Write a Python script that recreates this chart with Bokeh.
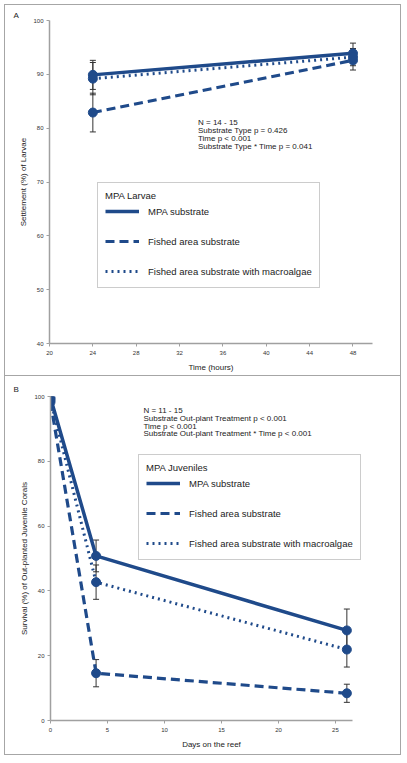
from bokeh.plotting import figure
from bokeh.models import (Whisker, TeeHead, ColumnDataSource, Legend, LegendItem,
                          Label, FixedTicker, Range1d)
from bokeh.embed import file_html
from bokeh.resources import INLINE

# ---------------- data ----------------
hours = [24, 48]
larvae_mpa = [89.9, 93.9]
larvae_mpa_se = [2.7, 1.9]
larvae_fished = [82.9, 92.6]
larvae_fished_se = [3.6, 1.8]
larvae_algae = [89.2, 93.2]
larvae_algae_se = [3.0, 1.6]

days = [0, 4, 26]
juv_mpa = [99.6, 50.8, 27.8]
juv_mpa_se = [0.4, 4.9, 6.6]
juv_fished = [98.3, 14.6, 8.4]
juv_fished_se = [0.8, 4.2, 2.8]
juv_algae = [99.0, 42.7, 21.9]
juv_algae_se = [0.6, 5.3, 5.4]

hour_ticks = [20, 24, 28, 32, 36, 40, 44, 48]
settle_ticks = [40, 50, 60, 70, 80, 90, 100]
day_ticks = [0, 5, 10, 15, 20, 25]
surv_ticks = [0, 20, 40, 60, 80, 100]

series_names = ["MPA substrate", "Fished area substrate",
                "Fished area substrate with macroalgae"]

stats_a = ["N = 14 - 15", "Substrate Type p = 0.426", "Time p < 0.001",
           "Substrate Type * Time p = 0.041"]
stats_b = ["N = 11 - 15", "Substrate Out-plant Treatment p < 0.001",
           "Time p < 0.001", "Substrate Out-plant Treatment * Time p < 0.001"]

BLUE = "#1f4a8a"
FONT = "Liberation Sans"
AXIS_GRAY = "#a0a0a0"
styles_ = [dict(line_dash="solid", line_width=3.5),
           dict(line_dash="9 5", line_width=3.2),
           dict(line_dash="2 4", line_width=3.0)]


def style_axes(p, xticks, yticks, xlabel, ylabel):
    p.xaxis.ticker = FixedTicker(ticks=xticks)
    p.yaxis.ticker = FixedTicker(ticks=yticks)
    p.xaxis.axis_label = xlabel
    p.yaxis.axis_label = ylabel
    for ax in (p.xaxis, p.yaxis):
        ax.axis_line_color = AXIS_GRAY
        ax.axis_line_width = 1.5
        ax.major_tick_line_color = AXIS_GRAY
        ax.major_tick_out = 3
        ax.major_tick_in = 0
        ax.minor_tick_line_color = None
        ax.major_label_text_font = FONT
        ax.major_label_text_font_size = "6px"
        ax.major_label_text_color = "#333333"
        ax.axis_label_text_font = FONT
        ax.axis_label_text_font_size = "8px"
        ax.axis_label_text_font_style = "normal"
        ax.axis_label_text_color = "#222222"
    p.xaxis.major_label_standoff = 4
    p.yaxis.major_label_standoff = 3
    p.xaxis.axis_label_standoff = 5
    p.yaxis.axis_label_standoff = 2
    p.xgrid.visible = False
    p.ygrid.visible = False
    p.outline_line_color = None


def panel(x, ys, ses, xr, yr, w, h, borders, css, xticks, yticks, xlabel, ylabel,
          legend_title, legend_loc, letter, letter_offset, letter_standoff,
          stats, stats_x, stats_y0, stats_dy):
    p = figure(width=w, height=h, output_backend="svg", toolbar_location=None,
               x_range=Range1d(*xr), y_range=Range1d(*yr),
               min_border_left=borders[0], min_border_right=borders[1],
               min_border_top=borders[2], min_border_bottom=borders[3],
               styles=css, title=letter)
    p.title.align = "left"
    p.title.offset = letter_offset
    p.title.standoff = letter_standoff
    p.title.text_font = FONT
    p.title.text_font_size = "8px"
    p.title.text_font_style = "normal"
    p.title.text_color = "#222222"
    style_axes(p, xticks, yticks, xlabel, ylabel)
    items = []
    for name, yv, se, st in zip(series_names, ys, ses, styles_):
        src = ColumnDataSource(dict(x=x, y=yv,
                                    upper=[a + b for a, b in zip(yv, se)],
                                    lower=[a - b for a, b in zip(yv, se)]))
        wh = Whisker(source=src, base="x", upper="upper", lower="lower",
                     line_color="#333333", line_width=1,
                     upper_head=TeeHead(size=6, line_color="#333333", line_width=1),
                     lower_head=TeeHead(size=6, line_color="#333333", line_width=1))
        p.add_layout(wh)
        r = p.line("x", "y", source=src, line_color=BLUE, **st)
        p.scatter("x", "y", source=src, size=9, color=BLUE)
        items.append(LegendItem(label=name, renderers=[r]))
    leg = Legend(items=items, location=legend_loc, title=legend_title,
                 title_text_font=FONT, title_text_font_size="9.5px",
                 title_text_font_style="normal", title_text_color="#222222",
                 title_standoff=1,
                 label_text_font=FONT, label_text_font_size="9.5px",
                 label_text_color="#222222",
                 glyph_width=34, glyph_height=18, label_height=18,
                 label_standoff=9, spacing=12, padding=7, margin=0,
                 border_line_color="#999999", border_line_width=1,
                 background_fill_alpha=1.0)
    p.add_layout(leg)
    for i, s in enumerate(stats):
        p.add_layout(Label(x=stats_x, y=stats_y0 - i * stats_dy, text=s,
                           text_font=FONT, text_font_size="8px",
                           text_baseline="middle", text_align="left",
                           text_color="#222222"))
    return p


css_a = {"border": "1px solid #a6a6a6", "margin-left": "4px", "margin-top": "4px"}
css_b = {"border": "1px solid #a6a6a6", "border-top": "none", "margin-left": "4px"}

pa = panel(hours, [larvae_mpa, larvae_fished, larvae_algae],
           [larvae_mpa_se, larvae_fished_se, larvae_algae_se],
           (20, 49.8), (40, 100), 397, 372, (44, 30, 15, 34), css_a,
           hour_ticks, settle_ticks, "Time (hours)", "Settlement (%) of Larvae",
           "MPA Larvae", (48, 55), "A", -36, 2,
           stats_a, 33.7, 81.05, 1.49)

pb = panel(days, [juv_mpa, juv_fished, juv_algae],
           [juv_mpa_se, juv_fished_se, juv_algae_se],
           (0, 28.25), (0, 100), 397, 379, (45, 30, 20, 35), css_b,
           day_ticks, surv_ticks, "Days on the reef",
           "Survival (%) of Out-planted Juvenile Corals",
           "MPA Juveniles", (88, 160), "B", -37, 6,
           stats_b, 8.15, 95.7, 2.42)
pb.xaxis.bounds = (0, 26.5)

open("out.html", "w").write(file_html([pa, pb], INLINE))
